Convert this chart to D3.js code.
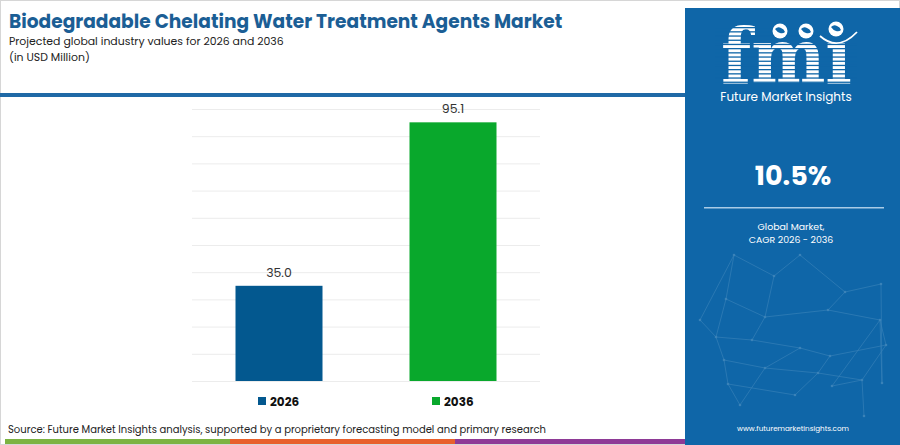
<!DOCTYPE html>
<html>
<head>
<meta charset="utf-8">
<script src="https://cdn.jsdelivr.net/npm/d3@7"></script>
<style>
  body { margin: 0; background: #fff; }
  svg { display: block; font-family: Poppins, Inter, "Open Sans", sans-serif; }
</style>
</head>
<body>
<div id="chart"></div>
<script>
// Chart data
const years = ['2026', '2036'];
const values = [35.0, 95.1];
const colors = ['#03588f', '#09a82c'];
const cagr = '10.5%';

const W = 900;
const H = 445;
const margin = { top: 109, right: 360, bottom: 64, left: 192 };
const width = W - margin.left - margin.right;
const height = H - margin.top - margin.bottom;

const svg = d3
  .select('#chart')
  .append('svg')
  .attr('width', W)
  .attr('height', H);

// Frame
svg.append('rect').attr('x', 0.5).attr('y', 0.5).attr('width', W - 1).attr('height', H - 1)
  .attr('fill', '#fff').attr('stroke', '#d6d6d6');

// Header
svg.append('text').attr('x', 9).attr('y', 28)
  .style('font-weight', 700).style('font-size', '18.6px').style('fill', '#1b5e95')
  .text('Biodegradable Chelating Water Treatment Agents Market');
svg.append('text').attr('x', 9).attr('y', 45)
  .style('font-size', '10.9px').style('fill', '#222')
  .text('Projected global industry values for 2026 and 2036');
svg.append('text').attr('x', 9).attr('y', 61)
  .style('font-size', '10.9px').style('fill', '#222')
  .text('(in USD Million)');

svg.append('rect').attr('x', 0).attr('y', 93).attr('width', 685).attr('height', 4).attr('fill', '#1f69a6');

// Scales
const x = d3.scaleBand().domain(years).range([0, width]).paddingInner(0.5).paddingOuter(0.25);
const y = d3.scaleLinear().domain([0, 100]).range([height, 0]);

const g = svg.append('g').attr('transform', `translate(${margin.left}, ${margin.top})`);

// Gridlines
g.append('g')
  .call(d3.axisLeft(y).tickValues(d3.range(0, 101, 10)).tickSize(-width).tickFormat(''))
  .call((s) => s.select('.domain').remove())
  .call((s) => s.selectAll('line').attr('stroke', '#ececec'));

// Bars
g.selectAll('.bar')
  .data(values)
  .enter()
  .append('rect')
  .attr('class', 'bar')
  .attr('x', (d, i) => x(years[i]))
  .attr('y', (d) => y(d))
  .attr('width', x.bandwidth())
  .attr('height', (d) => height - y(d))
  .attr('fill', (d, i) => colors[i]);

g.selectAll('.label')
  .data(values)
  .enter()
  .append('text')
  .attr('x', (d, i) => x(years[i]) + x.bandwidth() / 2)
  .attr('y', (d) => y(d) - 9)
  .attr('text-anchor', 'middle')
  .style('font-size', '12.5px')
  .style('fill', '#333')
  .text((d) => d.toFixed(1));

// Legend
const legend = g.append('g').attr('transform', `translate(0, ${height + 16})`);
years.forEach((yr, i) => {
  const lx = x(yr) + x.bandwidth() / 2 - 21;
  legend.append('rect').attr('x', lx).attr('y', 0).attr('width', 8).attr('height', 8).attr('fill', colors[i]);
  legend.append('text').attr('x', lx + 12).attr('y', 8.5)
    .style('font-size', '12px').style('font-weight', 700).style('fill', '#111')
    .text(yr);
});

// Source + bottom strip
svg.append('text').attr('x', 8).attr('y', 433)
  .style('font-size', '10px').style('fill', '#222')
  .text('Source: Future Market Insights analysis, supported by a proprietary forecasting model and primary research');
[['#7cb342', 5, 230], ['#e8602c', 230, 455], ['#8e3a96', 455, 685]].forEach(([c, a, b]) => {
  svg.append('rect').attr('x', a).attr('y', 439).attr('width', b - a).attr('height', 5).attr('fill', c);
});

// Right panel
const panel = svg.append('g');
const panelColor = '#0f66a8';
panel.append('rect').attr('x', 685).attr('y', 8).attr('width', 215).attr('height', H - 8).attr('fill', panelColor);

// network decoration
const net = [[734, 255], [800, 255], [774, 276], [845, 292], [881, 284], [726, 299], [765, 317], [828, 310], [880, 320],
  [716, 337], [752, 340], [800, 348], [830, 356], [886, 345], [724, 360], [765, 368], [818, 373], [862, 380],
  [728, 384], [740, 405], [795, 395], [832, 386], [864, 416], [882, 383], [700, 320]];
const links = [[0, 5], [0, 2], [1, 2], [1, 3], [3, 4], [2, 6], [5, 6], [6, 7], [7, 3], [7, 8], [5, 9], [9, 10], [10, 6],
  [10, 11], [11, 12], [12, 13], [8, 13], [9, 14], [14, 15], [15, 11], [15, 16], [16, 12], [16, 17], [17, 13], [14, 18],
  [18, 19], [19, 15], [18, 20], [20, 16], [21, 17], [21, 8], [22, 17], [23, 8], [24, 9], [24, 0], [4, 23]];
const netG = panel.append('g').attr('opacity', 0.2);
netG.selectAll('line').data(links).enter().append('line')
  .attr('x1', (d) => net[d[0]][0]).attr('y1', (d) => net[d[0]][1])
  .attr('x2', (d) => net[d[1]][0]).attr('y2', (d) => net[d[1]][1])
  .attr('stroke', '#cfe6f7').attr('stroke-width', 0.7);
netG.selectAll('circle').data(net).enter().append('circle')
  .attr('cx', (d) => d[0]).attr('cy', (d) => d[1]).attr('r', 1.3).attr('fill', '#e6f2fb');

// fmi logo
panel.append('text').attr('x', 721).attr('y', 83)
  .style('font-family', '"DejaVu Serif", serif').style('font-weight', 700).style('font-size', '76px')
  .attr('textLength', 131).attr('lengthAdjust', 'spacingAndGlyphs')
  .style('fill', '#fff').text('fmi');
// stripes across the letters
d3.range(27, 84, 4.2).forEach((yy) => {
  panel.append('rect').attr('x', 715).attr('y', yy).attr('width', 142).attr('height', 1.3).attr('fill', panelColor);
});
// cover the i dot, draw globes
panel.append('rect').attr('x', 822).attr('y', 14).attr('width', 36).attr('height', 28).attr('fill', panelColor);
[[780, 31], [806, 31], [836, 29]].forEach(([cx, cy]) => {
  panel.append('circle').attr('cx', cx).attr('cy', cy).attr('r', 7.5).attr('fill', '#fff');
  panel.append('path')
    .attr('d', `M${cx - 5},${cy - 2} q3,-3 6,-1 q3,1 4,4 q-2,2 -5,1 q-3,-1 -5,-4z`)
    .attr('fill', panelColor);
});
panel.append('path').attr('d', 'M820,36 Q838,52 857,32').attr('fill', 'none').attr('stroke', '#fff').attr('stroke-width', 1.8);

panel.append('text').attr('x', 786).attr('y', 101).attr('text-anchor', 'middle')
  .style('font-size', '12px').style('fill', '#fff')
  .text('Future Market Insights');

panel.append('text').attr('x', 793).attr('y', 185).attr('text-anchor', 'middle')
  .style('font-size', '27px').style('font-weight', 700).style('fill', '#fff')
  .text(cagr);
panel.append('rect').attr('x', 704).attr('y', 207).attr('width', 180).attr('height', 1.5).attr('fill', '#a9cbe6');
panel.append('text').attr('x', 791).attr('y', 230).attr('text-anchor', 'middle')
  .style('font-size', '9.4px').style('fill', '#fff').text('Global Market,');
panel.append('text').attr('x', 791).attr('y', 243).attr('text-anchor', 'middle')
  .style('font-size', '9.4px').style('fill', '#fff').text('CAGR 2026 - 2036');
panel.append('text').attr('x', 793).attr('y', 431).attr('text-anchor', 'middle')
  .style('font-size', '7.2px').style('fill', '#fff').text('www.futuremarketinsights.com');
</script>
</body>
</html>
